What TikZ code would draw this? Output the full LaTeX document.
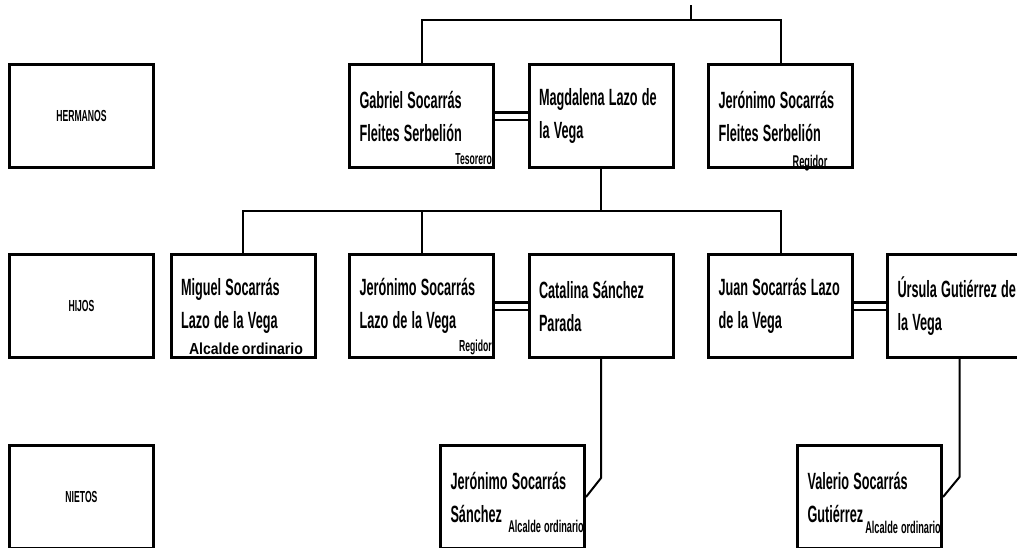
\documentclass[tikz,border=0pt]{standalone}
\usepackage{fontspec}
\setmainfont{Liberation Sans}[UprightFont=* Bold, FakeStretch=0.54]
\newfontfamily\widefont{Liberation Sans}[UprightFont=* Bold, FakeStretch=0.88]
\newcommand\tightsp{\spaceskip=0.18em plus 0.05em\relax}
\usepackage{tikz}
\usetikzlibrary{positioning, calc}

\tikzset{
  person/.style={draw, line width=3pt, minimum width=143pt, minimum height=103pt,
    inner xsep=10pt, text width=124pt, align=left,
    font=\fontsize{23.5}{33}\selectfont, execute at begin node=\tightsp},
  genbox/.style={person, align=center, font=\fontsize{16}{18}\selectfont},
  role/.style={inner sep=0pt, font=\fontsize{16}{18}\selectfont, execute at begin node=\tightsp},
  link/.style={line width=2pt},
  marriage/.style={line width=2.5pt, double, double distance=5pt}
}

\begin{document}
\begin{tikzpicture}[x=1pt, y=-1pt]

% canvas in pixels of the reference: x in [0,1017], y in [0,547] downwards
\useasboundingbox (0,0) rectangle (1017,547);
\clip (0,0) rectangle (1017,547);

%% ── generation captions ──────────────────────────────────────────
\node[genbox] (hermanos) at (81.5,115.5) {HERMANOS};
\node[genbox] (hijos)    at (81.5,306)   {HIJOS};
\node[genbox] (nietos)   at (81.5,497)   {NIETOS};

%% ── first row: brothers ──────────────────────────────────────────
\node[person] (gabriel)   at (421.5,116) {Gabriel Socarrás\\Fleites Serbelión};
\node[person] (magdalena) at (601,116)   {Magdalena Lazo de\\la Vega};
\node[person] (jeronimoF) at (780.5,116) {Jerónimo Socarrás\\Fleites Serbelión};

%% ── second row: children ─────────────────────────────────────────
\node[person] (miguel)    at (243,306)   {Miguel Socarrás\\Lazo de la Vega};
\node[person] (jeronimoL) at (421.5,306) {Jerónimo Socarrás\\Lazo de la Vega};
\node[person] (catalina)  at (601,306)   {Catalina Sánchez\\Parada};
\node[person] (juan)      at (780.5,306) {Juan Socarrás Lazo\\de la Vega};
\node[person] (ursula)    at (959.5,306) {Úrsula Gutiérrez de\\la Vega};

%% ── third row: grandchildren ─────────────────────────────────────
\node[person] (jeronimoS) at (512.5,497) {Jerónimo Socarrás\\Sánchez};
\node[person] (valerio)   at (869.5,497) {Valerio Socarrás\\Gutiérrez};

%% ── offices ──────────────────────────────────────────────────────
\node[role, anchor=south east] at ($(gabriel.south east)+(-3,-4)$) {Tesorero};
\node[role, anchor=south, font=\fontsize{17}{18}\selectfont] at (810,171) {Regidor};
\node[role, anchor=south, font=\widefont\fontsize{16}{18}\selectfont] at (246,355) {Alcalde ordinario};
\node[role, anchor=south east] at ($(jeronimoL.south east)+(-3,-4)$) {Regidor};
\node[role, anchor=south east, font=\fontsize{17}{18}\selectfont] at (584,533) {Alcalde ordinario};
\node[role, anchor=south east, font=\fontsize{17}{18}\selectfont] at (941,534) {Alcalde ordinario};

%% ── descent lines ────────────────────────────────────────────────
\coordinate (root) at (691,5);
\coordinate (gen1) at (601,20);
\coordinate (gen2) at (601,211);
\draw[line width=1.2pt] (root) -- (root |- gen1);
\draw[link] (gabriel.north) |- (gen1) -| (jeronimoF.north);
\draw[link] (magdalena.south) -- (gen2);
\draw[link] (miguel.north) |- (gen2) -| (juan.north);
\draw[link] (jeronimoL.north) -- (jeronimoL.north |- gen2);
\draw[link] (catalina.south) -- ($(catalina.south)+(0,119)$) -- (jeronimoS.east);
\draw[link] (ursula.south) -- ($(ursula.south)+(0,118)$) -- (valerio.east);

%% ── marriages ────────────────────────────────────────────────────
\draw[marriage] (gabriel.east) -- (magdalena.west);
\draw[marriage] (jeronimoL.east) -- (catalina.west);
\draw[marriage] (juan.east) -- (ursula.west);

\end{tikzpicture}
\end{document}
